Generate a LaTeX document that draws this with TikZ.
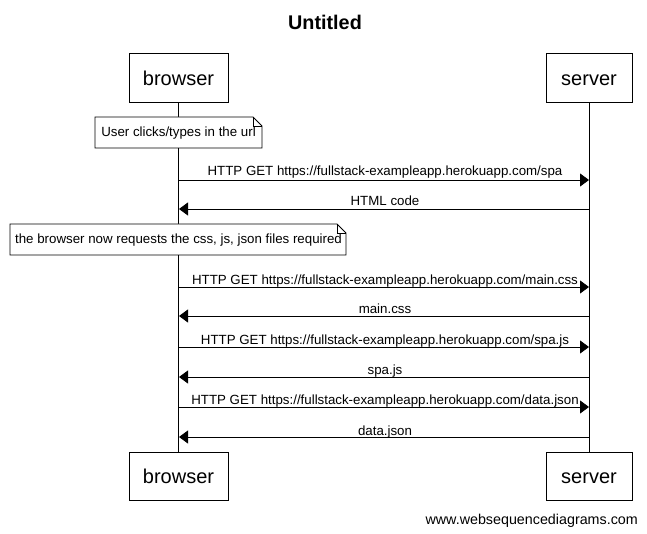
\documentclass[tikz,border=0pt]{standalone}
\usepackage{fontspec}
\setmainfont{Liberation Sans}
\usetikzlibrary{arrows.meta}
\begin{document}
\begin{tikzpicture}[x=1pt,y=-1pt,
  actor/.style={draw,line width=0.9pt,inner sep=0pt,text height=15.5pt,text depth=0pt,font=\fontsize{20}{22}\selectfont},
  msg/.style={line width=0.9pt,-{Triangle[length=9pt,width=13pt]}},
  lbl/.style={font=\fontsize{13.3}{15}\selectfont,inner sep=0pt,anchor=base},
  notetext/.style={font=\fontsize{13.3}{15}\selectfont,inner sep=0pt,anchor=base},
  life/.style={line width=0.9pt},
  notebox/.style={line width=0.9pt}]
\useasboundingbox (0,0) rectangle (647,534);
\node[font=\bfseries\fontsize{19.8}{22}\selectfont] (title) at (325,22) {Untitled};
% actor boxes
\node[actor,minimum width=99pt,minimum height=49pt] (bt) at (178.5,77.5) {browser};
\node[actor,minimum width=86pt,minimum height=49pt] (st) at (589,77.5) {server};
\node[actor,minimum width=99pt,minimum height=48pt] (bb) at (178.5,476) {browser};
\node[actor,minimum width=86pt,minimum height=48pt] (sb) at (589,476) {server};
\draw[life] (bt) -- (bb);
\draw[life] (st) -- (sb);
% notes
\draw[notebox,fill=white] (95,117) -- (253,117) -- (262,126) -- (262,148) -- (95,148) -- cycle;
\draw[notebox] (253,117) -- (253,126) -- (262,126);
\node[notetext] (n1) at (178.5,137) {User clicks/types in the url};
\draw[notebox,fill=white] (10,224) -- (337,224) -- (346,233) -- (346,255) -- (10,255) -- cycle;
\draw[notebox] (337,224) -- (337,233) -- (346,233);
\node[notetext] (n2) at (178.5,244) {the browser now requests the css, js, json files required};
% messages
\coordinate (b1) at (179,180); \coordinate (s1) at (589,180);
\coordinate (b2) at (179,209); \coordinate (s2) at (589,209);
\coordinate (b3) at (179,287); \coordinate (s3) at (589,287);
\coordinate (b4) at (179,316); \coordinate (s4) at (589,316);
\coordinate (b5) at (179,347); \coordinate (s5) at (589,347);
\coordinate (b6) at (179,377); \coordinate (s6) at (589,377);
\coordinate (b7) at (179,407); \coordinate (s7) at (589,407);
\coordinate (b8) at (179,437); \coordinate (s8) at (589,437);
\draw[msg] (b1) -- (s1);
\node[lbl] (l1) at (385,176) {HTTP GET https://fullstack-exampleapp.herokuapp.com/spa};
\draw[msg] (s2) -- (b2);
\node[lbl] (l2) at (385,206) {HTML code};
\draw[msg] (b3) -- (s3);
\node[lbl] (l3) at (385,284) {HTTP GET https://fullstack-exampleapp.herokuapp.com/main.css};
\draw[msg] (s4) -- (b4);
\node[lbl] (l4) at (385,313) {main.css};
\draw[msg] (b5) -- (s5);
\node[lbl] (l5) at (385,344) {HTTP GET https://fullstack-exampleapp.herokuapp.com/spa.js};
\draw[msg] (s6) -- (b6);
\node[lbl] (l6) at (385,374) {spa.js};
\draw[msg] (b7) -- (s7);
\node[lbl] (l7) at (385,404) {HTTP GET https://fullstack-exampleapp.herokuapp.com/data.json};
\draw[msg] (s8) -- (b8);
\node[lbl] (l8) at (385,435) {data.json};
\node[font=\fontsize{14.3}{16}\selectfont,inner sep=0pt,anchor=base east] (foot) at (638,524) {www.websequencediagrams.com};
\end{tikzpicture}
\end{document}
